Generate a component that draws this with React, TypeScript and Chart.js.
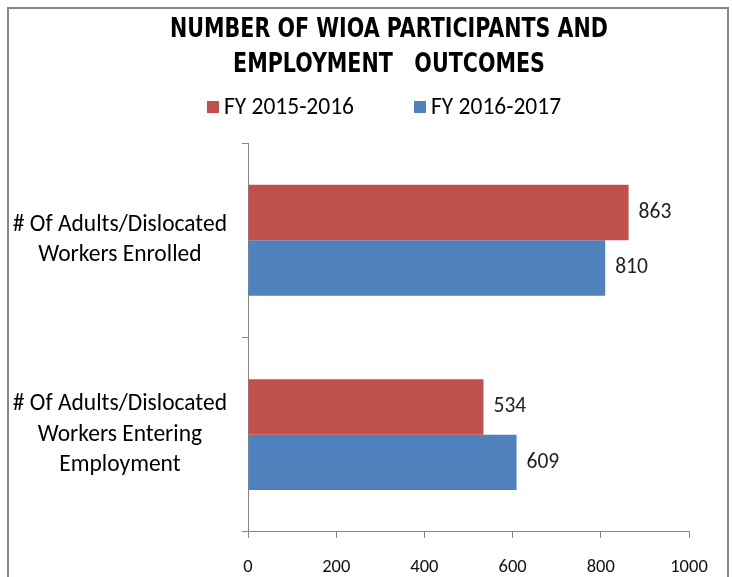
import React, { useEffect, useRef } from 'react';
import { Chart, registerables } from 'chart.js';

Chart.register(...registerables);

const categories: string[][] = [
  ['# Of Adults/Dislocated', 'Workers Enrolled'],
  ['# Of Adults/Dislocated', 'Workers Entering', 'Employment'],
];
const seriesNames = ['FY 2015-2016', 'FY 2016-2017'];
const fy20152016 = [863, 534];
const fy20162017 = [810, 609];
const seriesColors = ['#C0504D', '#4F81BD'];
const titleLines = ['NUMBER OF WIOA PARTICIPANTS AND', 'EMPLOYMENT   OUTCOMES'];
const xMin = 0;
const xMax = 1000;
const xStep = 200;

const SANS = 'Carlito, Lato, "Liberation Sans", sans-serif';
const AXIS = '#868686';

const headerPlugin = {
  id: 'header',
  afterDraw(chart: any) {
    const ctx = chart.ctx as CanvasRenderingContext2D;
    ctx.save();
    ctx.fillStyle = '#000';
    ctx.textAlign = 'center';
    ctx.textBaseline = 'middle';
    ctx.font = 'bold 27px "DejaVu Sans Condensed", "Liberation Sans", sans-serif';
    const sx = 438 / ctx.measureText(titleLines[0]).width;
    titleLines.forEach((line, i) => {
      ctx.save();
      ctx.translate(380, 21 + i * 35);
      ctx.scale(sx, 1);
      ctx.fillText(line, 0, 0);
      ctx.restore();
    });
    // legend
    ctx.font = `23.5px ${SANS}`;
    const box = 12;
    const gapBox = 5;
    const gapItem = 60;
    const widths = seriesNames.map((n) => box + gapBox + ctx.measureText(n).width);
    const total = widths.reduce((a, b) => a + b, 0) + gapItem * (widths.length - 1);
    let x = 375 - total / 2;
    const cy = 98;
    ctx.textAlign = 'left';
    seriesNames.forEach((n, i) => {
      ctx.fillStyle = seriesColors[i];
      ctx.fillRect(x, cy - box / 2, box, box);
      ctx.fillStyle = '#000';
      ctx.fillText(n, x + box + gapBox, cy + 1);
      x += widths[i] + gapItem;
    });
    ctx.restore();
  },
};

const valueLabelPlugin = {
  id: 'valueLabels',
  afterDatasetsDraw(chart: any) {
    const ctx = chart.ctx as CanvasRenderingContext2D;
    ctx.save();
    ctx.font = `21.5px ${SANS}`;
    ctx.fillStyle = '#222';
    ctx.textAlign = 'left';
    ctx.textBaseline = 'middle';
    chart.data.datasets.forEach((ds: any, di: number) => {
      const meta = chart.getDatasetMeta(di);
      meta.data.forEach((bar: any, i: number) => {
        ctx.fillText(String(ds.data[i]), bar.x + 10, bar.y);
      });
    });
    ctx.restore();
  },
};

export default function App() {
  const ref = useRef<HTMLCanvasElement>(null);
  useEffect(() => {
    if (!ref.current) return;
    const chart = new Chart(ref.current, {
      type: 'bar',
      data: {
        labels: categories,
        datasets: [
          { label: seriesNames[0], data: fy20152016, backgroundColor: seriesColors[0] },
          { label: seriesNames[1], data: fy20162017, backgroundColor: seriesColors[1] },
        ],
      },
      options: {
        indexAxis: 'y',
        responsive: false,
        animation: false,
        devicePixelRatio: 1,
        categoryPercentage: 0.57,
        barPercentage: 1.0,
        layout: { padding: { top: 134, right: 38, bottom: 0, left: 0 } },
        plugins: {
          legend: { display: false },
          title: { display: false },
          tooltip: { enabled: false },
        },
        scales: {
          x: {
            type: 'linear',
            min: xMin,
            max: xMax,
            ticks: {
              stepSize: xStep,
              color: '#111',
              padding: 18,
              font: { family: SANS, size: 18.5 },
              callback: (v: any) => String(v),
            },
            grid: { drawOnChartArea: false, drawTicks: true, tickLength: 6, color: AXIS },
            border: { color: AXIS, width: 1 },
            afterFit(scale: any) {
              scale.height = 40;
            },
          },
          y: {
            type: 'category',
            ticks: {
              crossAlign: 'center',
              padding: 15,
              color: '#000',
              font: { family: SANS, size: 23.5, lineHeight: 1.28 },
            },
            grid: { drawOnChartArea: false, drawTicks: true, tickLength: 6, color: AXIS, offset: true },
            border: { color: AXIS, width: 1 },
            afterFit(scale: any) {
              scale.width = 239;
            },
          },
        },
      } as any,
      plugins: [headerPlugin, valueLabelPlugin],
    });
    return () => chart.destroy();
  }, []);

  return (
    <div
      style={{
        position: 'fixed',
        left: 7,
        top: 7,
        width: 718,
        height: 568,
        border: '2px solid #878787',
        background: '#fff',
      }}
    >
      <canvas ref={ref} width={718} height={568} style={{ display: 'block' }} />
    </div>
  );
}
